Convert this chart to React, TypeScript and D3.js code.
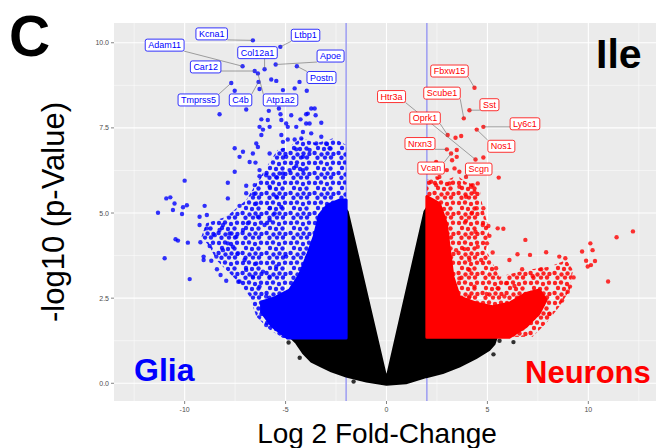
import React from "react";
import * as d3 from "d3";

const W = 656;
const H = 448;

// axes
const xTicks = [-10, -5, 0, 5, 10];
const xMinor = [-12.5, -7.5, -2.5, 2.5, 7.5, 12.5];
const yTicks = [0, 2.5, 5, 7.5, 10];
const yMinor = [1.25, 3.75, 6.25, 8.75];
const foldCut = [-2, 2];

// the clouds are too dense to read point by point: their outlines (log2 FC, -log10 p)
const blackArea: [number, number][] = [
  [0, -0.04], [-1.0, 0.05], [-2.0, 0.2], [-2.74, 0.35], [-3.23, 0.49], [-3.73, 0.64],
  [-4.14, 0.89], [-4.47, 1.18], [-4.72, 1.33], [-2.0, 1.33], [-2.0, 5.1], [-1.92, 5.04],
  [0, 0.15], [1.88, 5.04], [2.0, 5.15], [2.0, 1.33], [5.45, 1.33], [5.35, 1.15],
  [5.1, 0.98], [4.44, 0.74], [3.61, 0.49], [2.79, 0.3], [1.97, 0.18], [0.97, 0.0],
];
// solid part
const blueCore: [number, number][] = [
  [-2.0, 1.33], [-4.9, 1.33], [-5.69, 1.69], [-6.19, 2.1], [-6.19, 2.39], [-5.54, 2.51],
  [-4.8, 2.74], [-4.31, 3.18], [-3.91, 3.77], [-3.56, 4.35], [-3.32, 4.94], [-2.92, 5.23],
  [-2.33, 5.38], [-2.0, 5.38],
];
// looser part around it
const blueSpread: [number, number][] = [
  [-2.0, 7.0], [-2.6, 7.2], [-3.48, 7.05], [-4.2, 7.2], [-4.8, 6.95], [-5.4, 6.85],
  [-5.79, 6.5], [-6.45, 5.87], [-6.95, 5.38], [-7.94, 4.89], [-8.93, 4.7], [-9.17, 4.3],
  [-8.76, 4.01], [-8.43, 3.62], [-7.94, 3.33], [-7.28, 2.94], [-6.78, 2.55], [-6.45, 1.96],
  [-5.79, 1.57], [-5.13, 1.33], [-2.0, 1.33],
];
const redCore: [number, number][] = [
  [2.0, 1.35], [6.09, 1.35], [6.92, 1.67], [7.57, 2.06], [7.91, 2.45], [7.57, 2.74],
  [6.92, 2.64], [6.09, 2.35], [5.26, 2.25], [4.44, 2.35], [3.61, 2.54], [3.29, 3.13],
  [3.12, 3.91], [2.96, 4.7], [2.62, 5.28], [2.0, 5.48],
];
const redSpread: [number, number][] = [
  [2.0, 5.97], [2.4, 6.1], [2.9, 5.95], [3.5, 6.1], [3.94, 5.9], [4.6, 5.8],
  [4.77, 5.18], [5.1, 4.5], [4.93, 3.92], [5.59, 3.13], [6.92, 3.33], [8.07, 3.42],
  [8.91, 3.62], [9.24, 3.33], [9.08, 2.74], [8.56, 2.25], [7.91, 1.76], [7.24, 1.37],
  [2.0, 1.33],
];

// single points outside the dense parts
const blackPts: [number, number][] = [
  [-1.63, 0.05], [6.29, 1.21], [-4.85, 1.2], [-4.3, 0.75], [5.6, 1.25], [5.3, 0.85],
];
const bluePts: [number, number][] = [
  [-5.71, 8.92], [-5.46, 8.88], [-4.31, 8.85], [-7.52, 8.59], [-6.29, 8.64], [-5.13, 8.61], [-4.55, 8.66], [-3.95, 8.59],
  [-8.27, 7.9], [-6.95, 8.04], [-5.83, 8.0], [-5.33, 8.07], [-5.25, 7.9], [-4.72, 7.87], [-4.26, 7.75], [-3.98, 7.9],
  [-3.73, 8.07], [-3.51, 7.87], [-3.23, 7.65], [-6.2, 7.75], [-5.88, 7.73], [-5.21, 7.73], [-4.89, 7.53], [-4.47, 7.53],
  [-3.98, 7.63], [-6.29, 7.53], [-3.9, 7.92], [-3.56, 8.07], [-6.12, 7.45], [-6.2, 7.29], [-5.79, 7.53], [-4.97, 7.63],
  [-4.14, 7.38], [-3.81, 7.63], [-5.21, 7.29], [-5.13, 7.09], [-4.89, 7.16], [-4.55, 7.16], [-4.22, 7.19], [-3.73, 7.34],
  [-3.23, 7.24], [-3.48, 7.04], [-2.99, 7.04], [-2.82, 6.9], [-6.45, 7.04], [-6.37, 6.94], [-6.62, 6.75], [-5.79, 6.75],
  [-5.13, 6.85], [-4.97, 6.65], [-4.47, 6.87], [-4.14, 6.65], [-3.81, 6.85], [-7.52, 6.9], [-7.11, 6.8], [-7.28, 6.65],
  [-6.78, 6.5], [-6.49, 6.48], [-6.29, 6.26], [-5.96, 6.11], [-6.29, 6.08], [-7.52, 6.21], [-7.86, 5.89], [-6.95, 5.8],
  [-6.53, 5.82], [-5.46, 6.05], [-5.13, 6.16], [-4.8, 6.26], [-4.47, 6.38], [-4.14, 6.26], [-10.0, 5.95], [-10.91, 5.43],
  [-10.71, 5.46], [-10.5, 5.28], [-10.08, 5.17], [-9.89, 5.23], [-11.32, 5.01], [-10.58, 5.09], [-9.01, 5.21], [-7.86, 5.43],
  [-7.28, 5.21], [-6.95, 5.58], [-6.57, 5.56], [-6.45, 5.28], [-5.79, 5.77], [-5.46, 5.48], [-5.79, 5.14], [-5.21, 5.18],
  [-10.13, 4.97], [-10.99, 3.67], [-9.75, 3.06], [-10.45, 4.23], [-10.33, 4.19], [-9.84, 4.13], [-9.22, 4.14], [-9.26, 4.89],
  [-9.26, 4.65], [-8.9, 4.94], [-9.06, 3.72], [-8.68, 3.6], [-8.4, 3.35], [-8.22, 3.18], [-7.94, 3.01], [-7.34, 2.98],
  [-5.96, 1.71], [-8.9, 4.55], [-8.51, 4.35], [-8.27, 4.5], [-8.1, 4.65], [-7.77, 4.4], [-7.44, 4.3], [-7.11, 4.5],
  [-6.87, 4.7], [-6.37, 4.89], [-6.04, 4.65], [-5.79, 4.79], [-5.54, 4.99], [-8.76, 4.03], [-9.06, 3.62], [-8.43, 3.72],
  [-8.1, 3.91], [-7.86, 4.11], [-7.61, 4.01], [-7.36, 3.82], [-7.03, 3.62], [-6.95, 3.33], [-6.62, 3.13], [-7.28, 2.99],
  [-6.29, 2.84], [-5.96, 2.55], [-5.79, 2.25], [-5.63, 1.86], [-6.45, 3.52], [-6.12, 3.28], [-5.79, 3.13], [-5.46, 3.43],
  [-4.97, 3.72],
];
const redPts: [number, number][] = [
  [3.48, 6.85], [3.25, 6.55], [3.48, 6.65], [4.8, 6.63], [5.56, 6.04], [2.46, 6.5], [2.79, 6.36], [2.99, 6.26],
  [3.37, 6.31], [3.61, 6.21], [2.62, 6.06], [2.21, 5.92], [2.46, 5.82], [3.12, 5.87], [3.61, 5.77], [4.27, 5.82],
  [4.52, 5.87], [4.19, 5.77], [4.36, 5.62], [3.94, 5.48], [4.47, 5.14], [4.8, 5.14], [4.24, 5.01], [3.94, 4.77],
  [4.77, 4.65], [5.05, 4.62], [5.51, 4.55], [5.79, 4.54], [4.41, 4.45], [5.1, 4.33], [6.88, 4.21], [11.4, 4.29],
  [12.21, 4.46], [10.1, 4.11], [10.21, 3.91], [9.69, 3.87], [7.91, 3.85], [7.11, 3.77], [6.49, 3.79], [4.98, 4.11],
  [4.52, 4.01], [5.26, 3.84], [3.86, 3.94], [3.45, 3.91], [4.69, 3.62], [4.11, 3.62], [5.43, 3.38], [6.09, 3.62],
  [6.72, 3.35], [7.24, 3.15], [7.66, 3.35], [8.56, 3.72], [8.86, 3.67], [9.89, 3.6], [10.33, 3.59], [9.97, 3.43],
  [10.13, 3.47], [9.27, 3.11], [10.98, 2.99], [9.09, 2.84], [8.98, 2.69], [8.7, 2.43], [8.07, 2.04], [6.42, 2.25],
  [5.93, 2.94], [5.51, 2.79], [4.97, 2.62], [4.89, 2.27], [5.84, 2.55], [6.34, 2.86], [4.11, 3.33], [3.61, 3.08],
  [4.36, 2.84], [4.11, 2.55], [3.42, 7.21], [3.7, 7.26],
];

// labelled genes
const blueGenes = ["Kcna1", "Ltbp1", "Adam11", "Col12a1", "Apoe", "Car12", "Postn", "Tmprss5", "C4b", "Atp1a2"];
const blueGenePts: [number, number][] = [
  [-6.62, 10.07], [-5.26, 9.88], [-7.13, 9.31], [-6.04, 9.22], [-5.49, 9.36],
  [-6.53, 9.17], [-4.44, 9.31], [-7.69, 8.82], [-6.34, 8.85], [-6.37, 9.1],
];
const blueLabelAt: [number, number][] = [
  [-8.66, 10.26], [-4.01, 10.22], [-10.99, 9.93], [-6.39, 9.71], [-2.77, 9.61],
  [-8.96, 9.29], [-3.22, 8.98], [-9.31, 8.32], [-7.23, 8.32], [-5.25, 8.32],
];
const redGenes = ["Fbxw15", "Htr3a", "Scube1", "Sst", "Oprk1", "Ly6c1", "Nrxn3", "Nos1", "Vcan", "Scgn"];
const redGenePts: [number, number][] = [
  [4.36, 8.68], [4.41, 6.57], [3.83, 7.78], [4.11, 8.02], [3.03, 7.29],
  [4.8, 7.53], [2.99, 6.87], [4.47, 7.45], [3.2, 6.75], [3.94, 6.06],
];
const redLabelAt: [number, number][] = [
  [3.12, 9.17], [0.25, 8.42], [2.75, 8.52], [5.1, 8.18], [1.91, 7.79],
  [6.86, 7.62], [1.66, 7.04], [5.69, 6.96], [2.21, 6.32], [4.57, 6.29],
];

const FONT = "'Liberation Sans', Arial, sans-serif";
const BLUE = "#0000ff";
const RED = "#ff0000";
// speckle tile (24 x 20) used to shade the looser parts of the clouds
const speckle = [
  [3, 3], [9, 2.5], [15, 4], [21, 2.8], [6, 8], [12, 9], [18.5, 8.5],
  [2.6, 13], [9.5, 14.5], [15.5, 13.5], [21.4, 14], [5.5, 17.8], [13, 17.6], [19, 17.5],
];

let ctx: CanvasRenderingContext2D | null = null;
function textWidth(s: string) {
  if (!ctx) {
    ctx = document.createElement("canvas").getContext("2d");
    if (ctx) ctx.font = "9px 'Liberation Sans'";
  }
  return ctx ? ctx.measureText(s).width : s.length * 5;
}

export default function App() {
  const x = d3.scaleLinear().domain([-13.5, 13.6]).range([114, 661]);
  const y = d3.scaleLinear().domain([-0.52, 10.58]).range([401, 23]);
  const outline = d3
    .line<[number, number]>()
    .x((d) => x(d[0]))
    .y((d) => y(d[1]))
    .curve(d3.curveLinearClosed);

  const labels = (names: string[], pts: [number, number][], at: [number, number][], color: string) =>
    names.map((name, i) => {
      const px = x(pts[i][0]);
      const py = y(pts[i][1]);
      const lx = x(at[i][0]);
      const ly = y(at[i][1]);
      const w = textWidth(name) + 6;
      const h = 12;
      const bx = lx - w / 2;
      const by = ly - h / 2;
      const cx = Math.max(bx, Math.min(px, bx + w));
      const cy = Math.max(by, Math.min(py, by + h));
      return { name, px, py, lx, ly, w, h, bx, by, cx, cy, color };
    });
  const allLabels = [
    ...labels(blueGenes, blueGenePts, blueLabelAt, BLUE),
    ...labels(redGenes, redGenePts, redLabelAt, RED),
  ];

  const dots = (pts: [number, number][], color: string, key: string) =>
    pts.map((d, i) => (
      <circle key={key + i} cx={x(d[0])} cy={y(d[1])} r={2.2} fill={color} fillOpacity={0.8} />
    ));

  const pattern = (id: string, color: string) => (
    <pattern id={id} width={24} height={20} patternUnits="userSpaceOnUse">
      {speckle.map((p, i) => (
        <circle key={i} cx={p[0]} cy={p[1]} r={2.2} fill={color} fillOpacity={0.85} />
      ))}
    </pattern>
  );

  return (
    <svg
      width={W}
      height={H}
      style={{ position: "absolute", left: 0, top: 0, background: "white" }}
      fontFamily={FONT}
    >
      <defs>
        <clipPath id="panel">
          <rect x={114} y={23} width={W - 114} height={378} />
        </clipPath>
        {pattern("bluePat", BLUE)}
        {pattern("redPat", RED)}
      </defs>
      <rect x={114} y={23} width={W - 114} height={378} fill="#ebebeb" />
      <g clipPath="url(#panel)">
        {xMinor.map((v) => (
          <line key={"xm" + v} x1={x(v)} x2={x(v)} y1={23} y2={401} stroke="white" strokeWidth={0.5} />
        ))}
        {yMinor.map((v) => (
          <line key={"ym" + v} x1={114} x2={W} y1={y(v)} y2={y(v)} stroke="white" strokeWidth={0.5} />
        ))}
        {xTicks.map((v) => (
          <line key={"xg" + v} x1={x(v)} x2={x(v)} y1={23} y2={401} stroke="white" strokeWidth={1.1} />
        ))}
        {yTicks.map((v) => (
          <line key={"yg" + v} x1={114} x2={W} y1={y(v)} y2={y(v)} stroke="white" strokeWidth={1.1} />
        ))}
        {foldCut.map((v) => (
          <line key={"fc" + v} x1={x(v)} x2={x(v)} y1={23} y2={401} stroke="#9c9cf2" strokeWidth={1.5} />
        ))}

        <path d={outline(blackArea) || ""} fill="#000" stroke="#000" strokeWidth={2} strokeLinejoin="round" />
        {dots(blackPts, "#000", "k")}

        <path d={outline(blueSpread) || ""} fill="url(#bluePat)" />
        <path d={outline(blueCore) || ""} fill={BLUE} stroke={BLUE} strokeWidth={3} strokeLinejoin="round" />
        {dots(bluePts, BLUE, "b")}
        {dots(blueGenePts, BLUE, "bg")}

        <path d={outline(redSpread) || ""} fill="url(#redPat)" />
        <path d={outline(redCore) || ""} fill={RED} stroke={RED} strokeWidth={3} strokeLinejoin="round" />
        {dots(redPts, RED, "r")}
        {dots(redGenePts, RED, "rg")}

        {allLabels.map((l) => (
          <line key={"s" + l.name} x1={l.px} y1={l.py} x2={l.cx} y2={l.cy} stroke="#666" strokeWidth={0.6} />
        ))}
        {allLabels.map((l) => (
          <g key={"l" + l.name}>
            <rect x={l.bx} y={l.by} width={l.w} height={l.h} rx={2} fill="white" stroke={l.color} strokeWidth={0.8} />
            <text x={l.lx} y={l.ly + 3.2} textAnchor="middle" fontSize={9} fill={l.color}>
              {l.name}
            </text>
          </g>
        ))}
      </g>

      {/* axes */}
      {yTicks.map((v) => (
        <g key={"yt" + v}>
          <line x1={111} x2={114} y1={y(v)} y2={y(v)} stroke="#333" strokeWidth={0.6} />
          <text x={109} y={y(v) + 2.5} textAnchor="end" fontSize={7} fill="#4d4d4d">
            {v.toFixed(1)}
          </text>
        </g>
      ))}
      {xTicks.map((v) => (
        <g key={"xt" + v}>
          <line x1={x(v)} x2={x(v)} y1={401} y2={404} stroke="#333" strokeWidth={0.6} />
          <text x={x(v)} y={412} textAnchor="middle" fontSize={7} fill="#4d4d4d">
            {v}
          </text>
        </g>
      ))}

      <text x={377} y={443} textAnchor="middle" fontSize={28} fill="#000">
        Log 2 Fold-Change
      </text>
      <text transform="translate(64,212) rotate(-90)" textAnchor="middle" fontSize={31} fill="#000">
        -log10 (p-Value)
      </text>

      <text x={9} y={56} fontSize={57} fontWeight="bold" fill="#000">C</text>
      <text x={596} y={68} fontSize={41} fontWeight="bold" fill="#000">Ile</text>
      <text x={134} y={381} fontSize={32} fontWeight="bold" fill={BLUE}>Glia</text>
      <text x={525} y={383} fontSize={31} fontWeight="bold" fill={RED}>Neurons</text>
    </svg>
  );
}
